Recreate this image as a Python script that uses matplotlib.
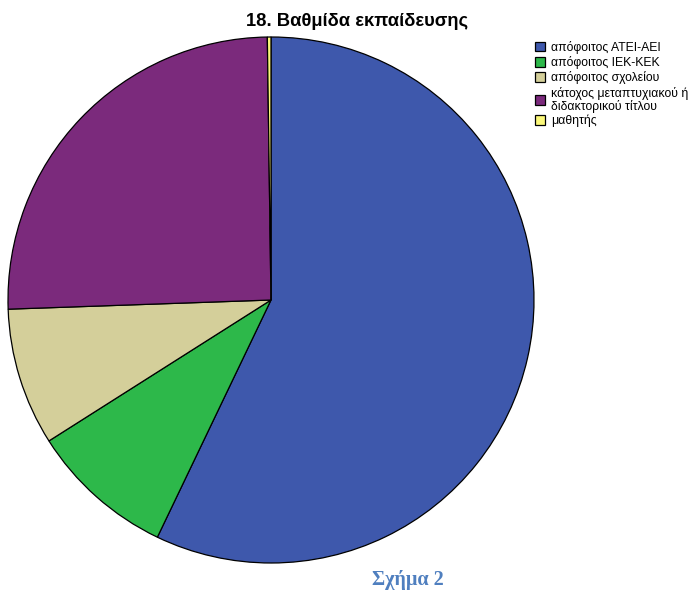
import matplotlib
matplotlib.use("Agg")
import matplotlib.pyplot as plt

categories = [
    "απόφοιτος ΑΤΕΙ-ΑΕΙ",
    "απόφοιτος ΙΕΚ-ΚΕΚ",
    "απόφοιτος σχολείου",
    "κάτοχος μεταπτυχιακού ή\nδιδακτορικού τίτλου",
    "μαθητής",
]
counts = [257, 40, 38, 114, 1]
colors = ["#3E58AC", "#2DB84A", "#D4CF9A", "#7B2A7C", "#FBF87A"]

W, H = 691, 596
fig = plt.figure(figsize=(W / 100, H / 100), dpi=100)
fig.patch.set_facecolor("white")

cx, cy, r = 271, 300, 263
ax = fig.add_axes([(cx - r) / W, (H - cy - r) / H, 2 * r / W, 2 * r / H])
wedges, _ = ax.pie(
    counts,
    colors=colors,
    startangle=90,
    counterclock=False,
    radius=1.0,
    wedgeprops=dict(edgecolor="black", linewidth=0.9),
)
ax.set_xlim(-1.0, 1.0)
ax.set_ylim(-1.0, 1.0)
ax.set_aspect("equal")
ax.axis("off")

fig.text(357 / W, 1 - 22 / H, "18. Βαθμίδα εκπαίδευσης", ha="center", va="center",
         fontsize=13.2, fontweight="bold", family="Liberation Sans")

leg = fig.legend(
    wedges, categories,
    loc="upper left",
    bbox_to_anchor=(535 / W, 1 - 41 / H),
    frameon=False,
    prop=dict(family="Liberation Sans", size=8.8),
    handlelength=0.8,
    handleheight=0.8,
    handletextpad=0.5,
    labelspacing=0.18,
    borderpad=0,
    borderaxespad=0,
)
for t in leg.get_texts():
    t.set_linespacing(1.0)

fig.text(408 / W, 1 - 580 / H, "Σχήμα 2", ha="center", va="center",
         fontsize=14.5, fontweight="bold", family="Liberation Serif", color="#4F7FBF")

fig.savefig("out.png", dpi=100)
